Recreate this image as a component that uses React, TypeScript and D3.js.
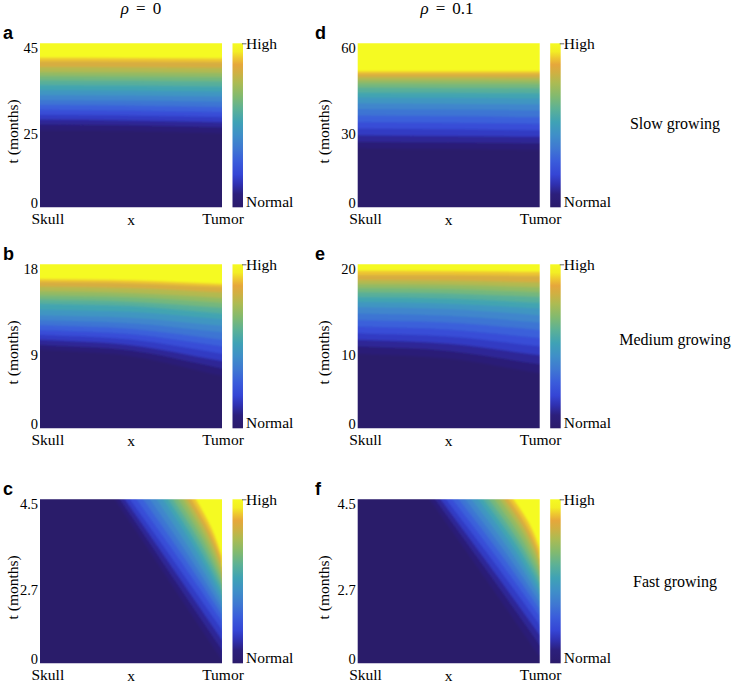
import React from "react";
import * as d3 from "d3";

// ---------- data ----------
const LEVELS = [0.03, 0.08, 0.14, 0.2, 0.26, 0.32, 0.38, 0.44, 0.5, 0.56, 0.62, 0.68, 0.74, 0.8, 0.87, 0.94];

const CMAP_STOPS = [0, 0.08, 0.14, 0.2, 0.28, 0.36, 0.44, 0.52, 0.6, 0.68, 0.76, 0.82, 0.87, 0.91, 0.95, 1];
const CMAP_COLORS = ["#2b1b6b", "#2c1f7c", "#2f30b0", "#3545d5", "#3a5cdb", "#3f78d2", "#3f8fc8", "#3fa2b5", "#5cb196", "#83ba6e", "#adbb52", "#d0b042", "#e6a73b", "#eec830", "#f3ee24", "#f5fa22"];

const COL_TITLES = ["0", "0.1"];
const ROW_LABELS = ["Slow growing", "Medium growing", "Fast growing"];
const PANEL_LETTERS = ["a", "b", "c", "d", "e", "f"];
const TICK_FRACS = [0, 0.45, 1];
const aTicks = ["0", "25", "45"];
const bTicks = ["0", "9", "18"];
const cTicks = ["0", "2.7", "4.5"];
const dTicks = ["0", "30", "60"];
const eTicks = ["0", "10", "20"];
const fTicks = ["0", "2.7", "4.5"];

// flat panels: level-crossing time fraction at x = 0, 0.5, 1
const FLAT_X = [0, 0.5, 1];
const aLevels = [
  [0.47, 0.465, 0.452], [0.505, 0.5, 0.488], [0.535, 0.53, 0.519], [0.565, 0.56, 0.55],
  [0.595, 0.59, 0.581], [0.625, 0.621, 0.612], [0.655, 0.651, 0.643], [0.685, 0.682, 0.675],
  [0.715, 0.712, 0.706], [0.745, 0.742, 0.737], [0.775, 0.773, 0.768], [0.8, 0.798, 0.794],
  [0.825, 0.823, 0.82], [0.855, 0.854, 0.851], [0.89, 0.889, 0.886], [0.912, 0.911, 0.908],
];
const bLevels = [
  [0.48, 0.44, 0.32], [0.51, 0.474, 0.365], [0.54, 0.507, 0.41], [0.57, 0.541, 0.455],
  [0.6, 0.575, 0.5], [0.63, 0.607, 0.54], [0.66, 0.641, 0.585], [0.69, 0.674, 0.625],
  [0.725, 0.71, 0.665], [0.76, 0.745, 0.7], [0.785, 0.772, 0.735], [0.81, 0.799, 0.765],
  [0.835, 0.825, 0.795], [0.865, 0.856, 0.83], [0.893, 0.885, 0.863], [0.91, 0.902, 0.88],
];
const dLevels = [
  [0.36, 0.355, 0.35], [0.4, 0.395, 0.39], [0.44, 0.435, 0.43], [0.48, 0.476, 0.47],
  [0.52, 0.516, 0.51], [0.56, 0.556, 0.55], [0.6, 0.597, 0.592], [0.635, 0.632, 0.628],
  [0.67, 0.668, 0.664], [0.7, 0.698, 0.695], [0.73, 0.728, 0.726], [0.755, 0.754, 0.752],
  [0.775, 0.774, 0.773], [0.795, 0.794, 0.793], [0.815, 0.815, 0.814], [0.83, 0.83, 0.83],
];
const eLevels = [
  [0.455, 0.425, 0.335], [0.5, 0.472, 0.39], [0.54, 0.516, 0.445], [0.58, 0.56, 0.5],
  [0.62, 0.602, 0.55], [0.66, 0.645, 0.6], [0.7, 0.686, 0.645], [0.74, 0.727, 0.69],
  [0.77, 0.76, 0.73], [0.8, 0.791, 0.765], [0.83, 0.822, 0.8], [0.855, 0.849, 0.83],
  [0.88, 0.875, 0.86], [0.905, 0.901, 0.89], [0.935, 0.934, 0.93], [0.96, 0.959, 0.955],
];

// diagonal panels: x where level meets top edge, x at mid height of the curve, t where it meets right edge
const cTopX = [0.411, 0.439, 0.466, 0.494, 0.53, 0.567, 0.603, 0.64, 0.676, 0.704, 0.731, 0.759, 0.786, 0.808, 0.832, 0.856];
const cMidX = [0.706, 0.72, 0.735, 0.75, 0.77, 0.79, 0.81, 0.83, 0.85, 0.865, 0.88, 0.895, 0.908, 0.92, 0.93, 0.942];
const cRightT = [0.02, 0.081, 0.142, 0.203, 0.254, 0.295, 0.333, 0.37, 0.407, 0.443, 0.478, 0.512, 0.549, 0.585, 0.62, 0.65];
const fTopX = [0.395, 0.425, 0.455, 0.485, 0.52, 0.555, 0.59, 0.625, 0.66, 0.69, 0.72, 0.75, 0.78, 0.805, 0.83, 0.855];
const fMidX = [0.7, 0.715, 0.73, 0.748, 0.767, 0.787, 0.806, 0.825, 0.844, 0.86, 0.876, 0.892, 0.907, 0.92, 0.932, 0.944];
const fRightT = [0.04, 0.112, 0.173, 0.234, 0.285, 0.33, 0.37, 0.41, 0.447, 0.484, 0.52, 0.557, 0.594, 0.63, 0.66, 0.7];

// ---------- layout ----------
const W = 733, H = 683;
const PW = 182, PH = 164;
const COL_LEFT = [40, 357.7];
const ROW_TOP = [43.3, 264.3, 499.3];
const SERIF = "Liberation Serif, Times New Roman, serif";
const SANS = "Liberation Sans, Arial, sans-serif";
const EXT = 0.06;

const color = d3.scaleLinear<string>().domain(CMAP_STOPS).range(CMAP_COLORS).interpolate(d3.interpolateRgb);
const bandVal = (k: number) => (k < LEVELS.length - 1 ? (LEVELS[k] + LEVELS[k + 1]) / 2 : 1);

type PanelDef = {
  letter: string; col: number; row: number; ticks: string[];
  flat?: number[][]; topX?: number[]; midX?: number[]; rightT?: number[];
};

const panels: PanelDef[] = [
  { letter: PANEL_LETTERS[0], col: 0, row: 0, ticks: aTicks, flat: aLevels },
  { letter: PANEL_LETTERS[1], col: 0, row: 1, ticks: bTicks, flat: bLevels },
  { letter: PANEL_LETTERS[2], col: 0, row: 2, ticks: cTicks, topX: cTopX, midX: cMidX, rightT: cRightT },
  { letter: PANEL_LETTERS[3], col: 1, row: 0, ticks: dTicks, flat: dLevels },
  { letter: PANEL_LETTERS[4], col: 1, row: 1, ticks: eTicks, flat: eLevels },
  { letter: PANEL_LETTERS[5], col: 1, row: 2, ticks: fTicks, topX: fTopX, midX: fMidX, rightT: fRightT },
];

function Panel({ p, i }: { p: PanelDef; i: number }) {
  const left = COL_LEFT[p.col];
  const top = ROW_TOP[p.row];
  const bottom = top + PH;
  const right = left + PW;
  const x = d3.scaleLinear().domain([0, 1]).range([left, right]);
  const y = d3.scaleLinear().domain([0, 1]).range([bottom, top]);
  const clipId = `clip-${i}`;
  const filtId = `soft-${i}`;

  const bands: { d: string; fill: string }[] = [];
  if (p.flat) {
    const area = d3.area<[number, number]>()
      .x((d) => x(d[0]))
      .y0(() => y(1 + EXT))
      .y1((d) => y(d[1]))
      .curve(d3.curveMonotoneX);
    p.flat.forEach((row, k) => {
      const n = row.length;
      const slopeL = (row[1] - row[0]) / (FLAT_X[1] - FLAT_X[0]);
      const slopeR = (row[n - 1] - row[n - 2]) / (FLAT_X[n - 1] - FLAT_X[n - 2]);
      const pts: [number, number][] = [
        [-EXT, row[0] - slopeL * EXT],
        ...FLAT_X.map((xx, j) => [xx, row[j]] as [number, number]),
        [1 + EXT, row[n - 1] + slopeR * EXT],
      ];
      bands.push({ d: area(pts) || "", fill: color(bandVal(k)) });
    });
  } else if (p.topX && p.midX && p.rightT) {
    const line = d3.line<[number, number]>().x((d) => x(d[0])).y((d) => y(d[1])).curve(d3.curveNatural);
    LEVELS.forEach((_, k) => {
      const tx = p.topX![k], mx = p.midX![k], rt = p.rightT![k];
      const pts: [number, number][] = [[tx, 1], [mx, (1 + rt) / 2], [1, rt]];
      const dpath = `M${x(tx)},${y(1 + EXT)}L` + (line(pts) || "").slice(1) +
        `L${x(1)},${y(rt - EXT)}L${x(1 + EXT)},${y(rt - EXT)}L${x(1 + EXT)},${y(1 + EXT)}Z`;
      bands.push({ d: dpath, fill: color(bandVal(k)) });
    });
  }

  const cbL = right + 10.5;
  const cbW = 10.5;
  const fs = 15.5;

  return (
    <g>
      <defs>
        <clipPath id={clipId}>
          <rect x={left} y={top} width={PW} height={PH} />
        </clipPath>
        <filter id={filtId} filterUnits="userSpaceOnUse" x={left - 20} y={top - 20} width={PW + 40} height={PH + 40}>
          <feGaussianBlur stdDeviation={1.3} />
        </filter>
      </defs>
      <g clipPath={`url(#${clipId})`}>
        <g filter={`url(#${filtId})`}>
          <rect x={x(-EXT)} y={y(1 + EXT)} width={x(1 + EXT) - x(-EXT)} height={y(-EXT) - y(1 + EXT)} fill={color(0)} />
          {bands.map((b, k) => (
            <path key={k} d={b.d} fill={b.fill} />
          ))}
        </g>
      </g>
      {/* panel letter */}
      <text x={p.col === 0 ? 3 : 315} y={top - 4} fontFamily={SANS} fontWeight="bold" fontSize={18}>{p.letter}</text>
      {/* y ticks */}
      {p.ticks.map((t, k) => {
        const yy = Math.min(Math.max(y(TICK_FRACS[k]), top + 4.5), bottom - 4.5);
        return (
          <text key={k} x={left - 2} y={yy} dy="0.35em" textAnchor="end" fontFamily={SERIF} fontSize={14.5}>{t}</text>
        );
      })}
      <text transform={`translate(${p.col === 0 ? 18 : 329},${(top + bottom) / 2 + 6}) rotate(-90)`} textAnchor="middle" fontFamily={SERIF} fontSize={fs}>t (months)</text>
      {/* x labels */}
      <text x={left - 8.5} y={bottom + 17} fontFamily={SERIF} fontSize={fs}>Skull</text>
      <text x={right + 1} y={bottom + 17} textAnchor="middle" fontFamily={SERIF} fontSize={fs}>Tumor</text>
      <text x={(left + right) / 2} y={bottom + 18} textAnchor="middle" fontFamily={SERIF} fontSize={fs}>x</text>
      {/* colorbar */}
      <rect x={cbL} y={top} width={cbW} height={PH} fill="url(#cbar)" />
      <line x1={cbL + cbW - 1} x2={cbL + cbW + 3.5} y1={top + 0.5} y2={top + 0.5} stroke="#666" strokeWidth={1} />
      <text x={cbL + cbW + 3} y={top + 5.5} fontFamily={SERIF} fontSize={fs}>High</text>
      <text x={cbL + cbW + 3} y={bottom} fontFamily={SERIF} fontSize={fs}>Normal</text>
    </g>
  );
}

export default function App() {
  const titleX = [141, 447];
  const rowLabelY = [129, 345, 587];
  return (
    <svg width={W} height={H} style={{ position: "absolute", left: 0, top: 0, background: "#fff" }}>
      <defs>
        <linearGradient id="cbar" x1="0" y1="1" x2="0" y2="0">
          {CMAP_STOPS.map((s, k) => (
            <stop key={k} offset={s} stopColor={CMAP_COLORS[k]} />
          ))}
        </linearGradient>
      </defs>
      <rect x={0} y={0} width={W} height={H} fill="#fff" />
      {COL_TITLES.map((t, k) => (
        <text key={k} x={titleX[k]} y={13.5} textAnchor="middle" fontFamily={SERIF} fontSize={17}>
          <tspan fontStyle="italic">ρ</tspan>
          <tspan dx={7}>=</tspan>
          <tspan dx={7}>{t}</tspan>
        </text>
      ))}
      {ROW_LABELS.map((t, k) => (
        <text key={k} x={675} y={rowLabelY[k]} textAnchor="middle" fontFamily={SERIF} fontSize={16}>{t}</text>
      ))}
      {panels.map((p, i) => (
        <Panel key={i} p={p} i={i} />
      ))}
    </svg>
  );
}
